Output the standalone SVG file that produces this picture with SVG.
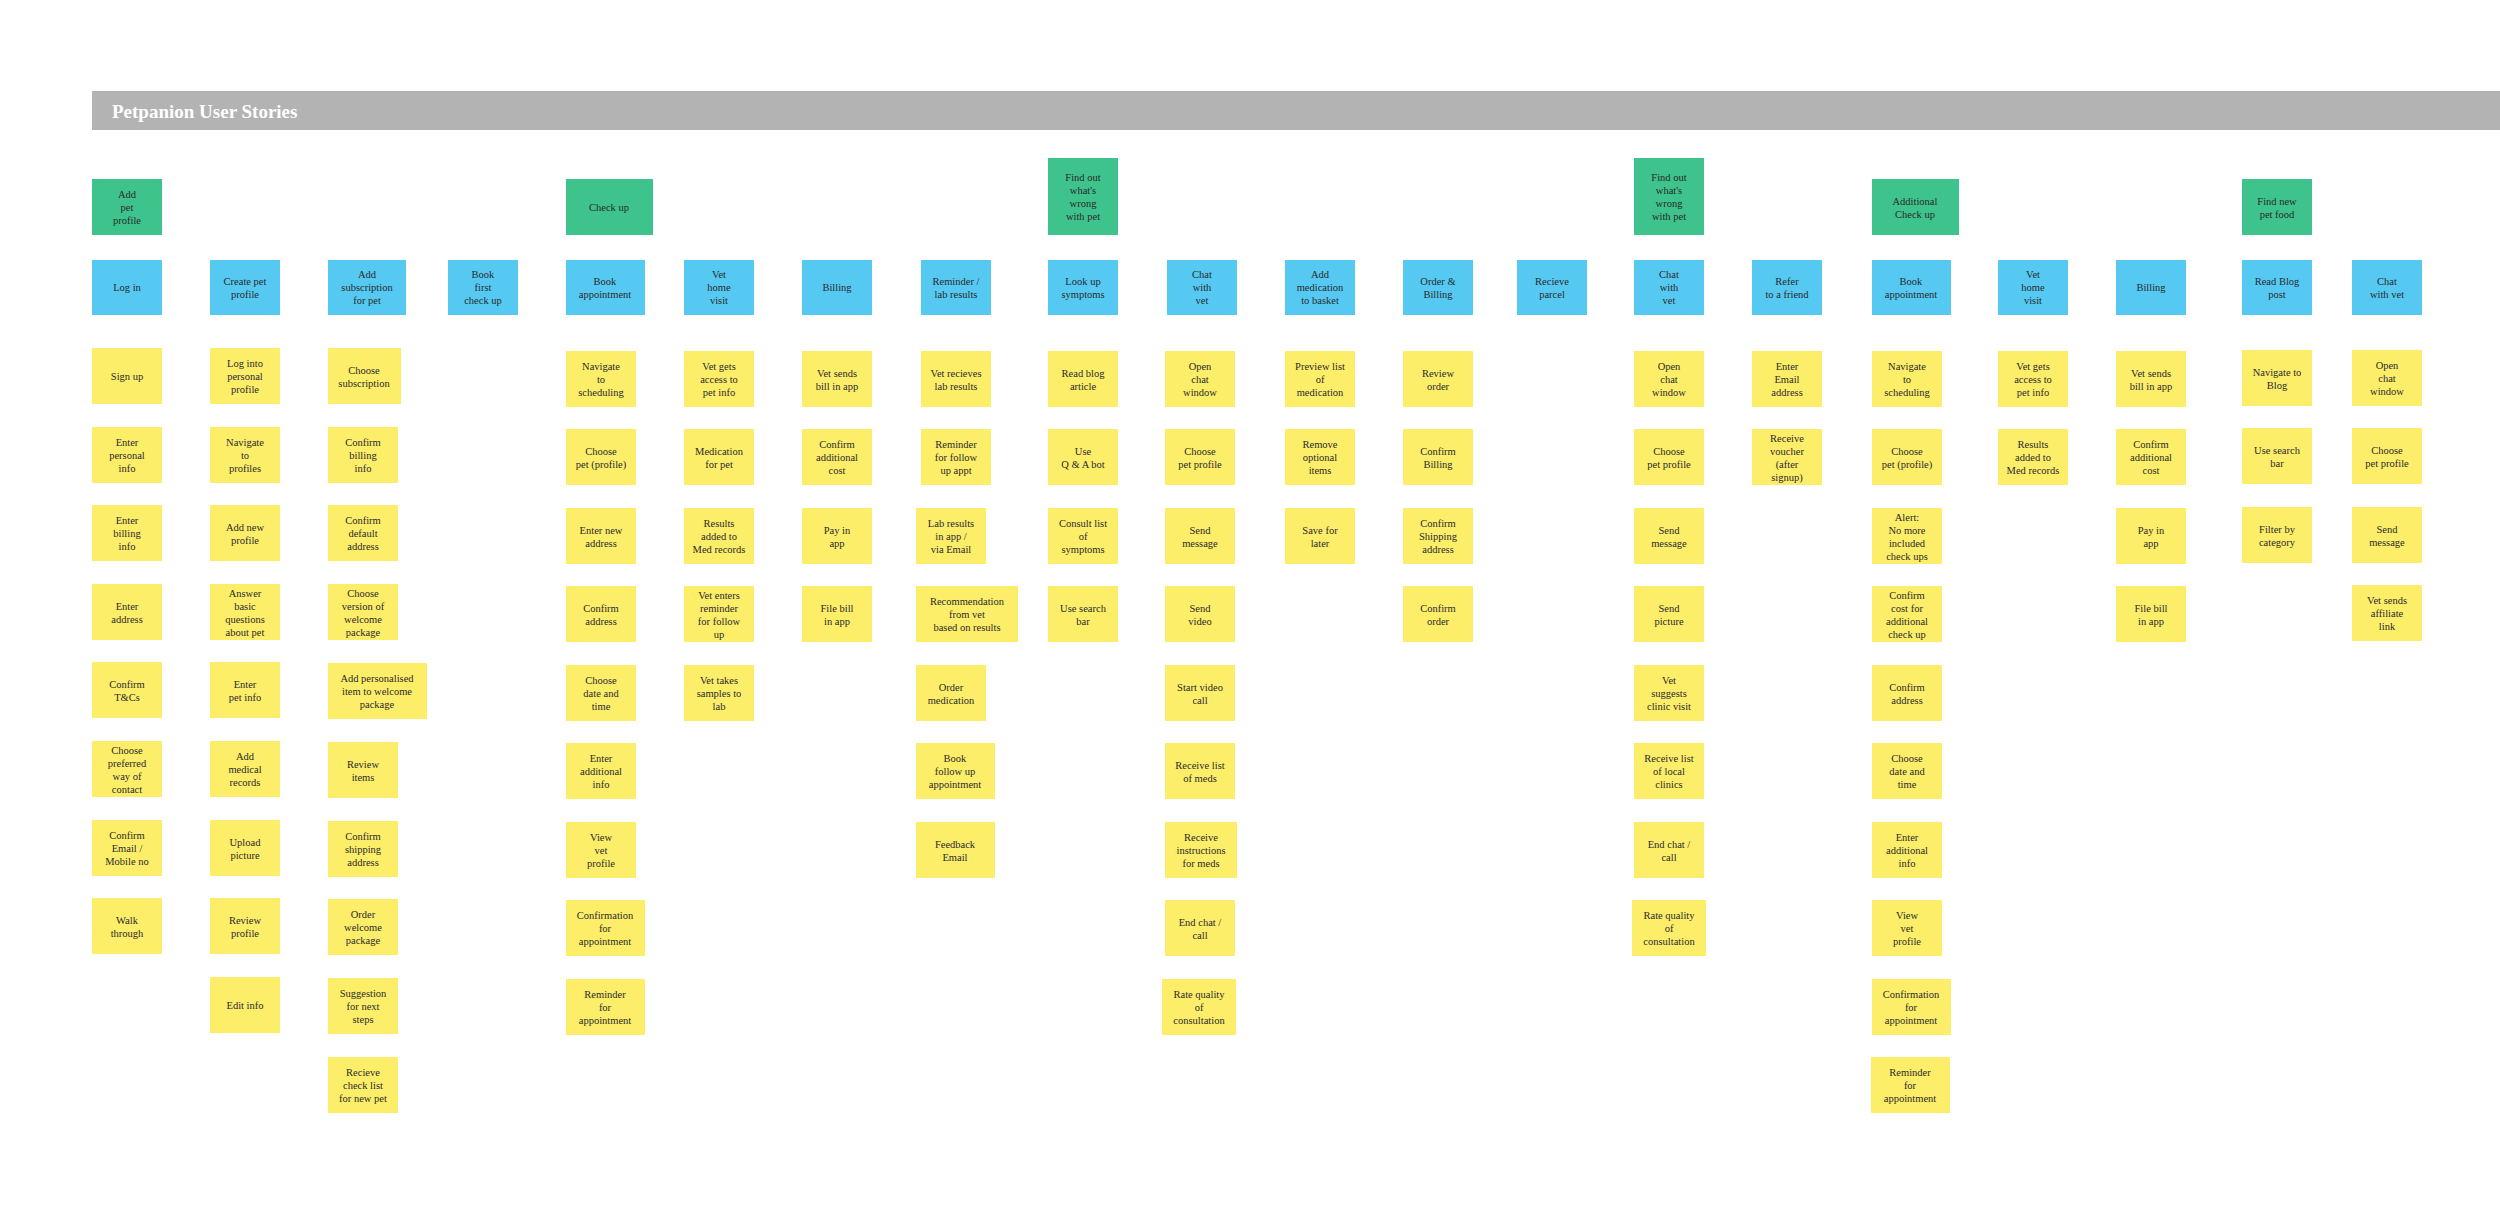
<svg xmlns="http://www.w3.org/2000/svg" width="2500" height="1231" viewBox="0 0 2500 1231">
<style>
.g{fill:#3ec38d}.b{fill:#55c9f2}.y{fill:#fdee6a}
text{font-family:"Liberation Serif","DejaVu Serif",serif;font-size:10.5px;fill:#2a2a2a;text-anchor:middle;dominant-baseline:central}
.t{font-size:19px;font-weight:bold;fill:#fff;text-anchor:start}
</style>
<rect width="2500" height="1231" fill="#fff"/>
<g id="banner"><rect x="92" y="91" width="2408" height="39" fill="#b3b3b3"/><text class="t" x="112" y="111">Petpanion User Stories</text></g>
<g id="connectors"></g>
<!-- Col 1 -->
<g id="g1"><rect class="g" x="92" y="179" width="70" height="56"/><text x="127" y="207"><tspan x="127" dy="-13">Add</tspan><tspan x="127" dy="13">pet</tspan><tspan x="127" dy="13">profile</tspan></text></g>
<g id="b1"><rect class="b" x="92" y="260" width="70" height="55"/><text x="127" y="287"><tspan x="127" dy="0">Log in</tspan></text></g>
<g id="y1a"><rect class="y" x="92" y="348" width="70" height="56"/><text x="127" y="376"><tspan x="127" dy="0">Sign up</tspan></text></g>
<g id="y1b"><rect class="y" x="92" y="427" width="70" height="56"/><text x="127" y="455"><tspan x="127" dy="-13">Enter</tspan><tspan x="127" dy="13">personal</tspan><tspan x="127" dy="13">info</tspan></text></g>
<g id="y1c"><rect class="y" x="92" y="505" width="70" height="56"/><text x="127" y="533"><tspan x="127" dy="-13">Enter</tspan><tspan x="127" dy="13">billing</tspan><tspan x="127" dy="13">info</tspan></text></g>
<g id="y1d"><rect class="y" x="92" y="584" width="70" height="56"/><text x="127" y="612"><tspan x="127" dy="-6.5">Enter</tspan><tspan x="127" dy="13">address</tspan></text></g>
<g id="y1e"><rect class="y" x="92" y="662" width="70" height="56"/><text x="127" y="690"><tspan x="127" dy="-6.5">Confirm</tspan><tspan x="127" dy="13">T&amp;Cs</tspan></text></g>
<g id="y1f"><rect class="y" x="92" y="741" width="70" height="56"/><text x="127" y="769"><tspan x="127" dy="-19.5">Choose</tspan><tspan x="127" dy="13">preferred</tspan><tspan x="127" dy="13">way of</tspan><tspan x="127" dy="13">contact</tspan></text></g>
<g id="y1g"><rect class="y" x="92" y="820" width="70" height="56"/><text x="127" y="848"><tspan x="127" dy="-13">Confirm</tspan><tspan x="127" dy="13">Email /</tspan><tspan x="127" dy="13">Mobile no</tspan></text></g>
<g id="y1h"><rect class="y" x="92" y="898" width="70" height="56"/><text x="127" y="926"><tspan x="127" dy="-6.5">Walk</tspan><tspan x="127" dy="13">through</tspan></text></g>
<!-- Col 2 -->
<g id="b2"><rect class="b" x="210" y="260" width="70" height="55"/><text x="245" y="287"><tspan x="245" dy="-6.5">Create pet</tspan><tspan x="245" dy="13">profile</tspan></text></g>
<g id="y2a"><rect class="y" x="210" y="348" width="70" height="56"/><text x="245" y="376"><tspan x="245" dy="-13">Log into</tspan><tspan x="245" dy="13">personal</tspan><tspan x="245" dy="13">profile</tspan></text></g>
<g id="y2b"><rect class="y" x="210" y="427" width="70" height="56"/><text x="245" y="455"><tspan x="245" dy="-13">Navigate</tspan><tspan x="245" dy="13">to</tspan><tspan x="245" dy="13">profiles</tspan></text></g>
<g id="y2c"><rect class="y" x="210" y="505" width="70" height="56"/><text x="245" y="533"><tspan x="245" dy="-6.5">Add new</tspan><tspan x="245" dy="13">profile</tspan></text></g>
<g id="y2d"><rect class="y" x="210" y="584" width="70" height="56"/><text x="245" y="612"><tspan x="245" dy="-19.5">Answer</tspan><tspan x="245" dy="13">basic</tspan><tspan x="245" dy="13">questions</tspan><tspan x="245" dy="13">about pet</tspan></text></g>
<g id="y2e"><rect class="y" x="210" y="662" width="70" height="56"/><text x="245" y="690"><tspan x="245" dy="-6.5">Enter</tspan><tspan x="245" dy="13">pet info</tspan></text></g>
<g id="y2f"><rect class="y" x="210" y="741" width="70" height="56"/><text x="245" y="769"><tspan x="245" dy="-13">Add</tspan><tspan x="245" dy="13">medical</tspan><tspan x="245" dy="13">records</tspan></text></g>
<g id="y2g"><rect class="y" x="210" y="820" width="70" height="56"/><text x="245" y="848"><tspan x="245" dy="-6.5">Upload</tspan><tspan x="245" dy="13">picture</tspan></text></g>
<g id="y2h"><rect class="y" x="210" y="898" width="70" height="56"/><text x="245" y="926"><tspan x="245" dy="-6.5">Review</tspan><tspan x="245" dy="13">profile</tspan></text></g>
<g id="y2i"><rect class="y" x="210" y="977" width="70" height="56"/><text x="245" y="1005"><tspan x="245" dy="0">Edit info</tspan></text></g>
<!-- Col 3 -->
<g id="b3"><rect class="b" x="328" y="260" width="78" height="55"/><text x="367" y="287"><tspan x="367" dy="-13">Add</tspan><tspan x="367" dy="13">subscription</tspan><tspan x="367" dy="13">for pet</tspan></text></g>
<g id="y3a"><rect class="y" x="328" y="348" width="73" height="56"/><text x="364" y="376"><tspan x="364" dy="-6.5">Choose</tspan><tspan x="364" dy="13">subscription</tspan></text></g>
<g id="y3b"><rect class="y" x="328" y="427" width="70" height="56"/><text x="363" y="455"><tspan x="363" dy="-13">Confirm</tspan><tspan x="363" dy="13">billing</tspan><tspan x="363" dy="13">info</tspan></text></g>
<g id="y3c"><rect class="y" x="328" y="505" width="70" height="56"/><text x="363" y="533"><tspan x="363" dy="-13">Confirm</tspan><tspan x="363" dy="13">default</tspan><tspan x="363" dy="13">address</tspan></text></g>
<g id="y3d"><rect class="y" x="328" y="584" width="70" height="56"/><text x="363" y="612"><tspan x="363" dy="-19.5">Choose</tspan><tspan x="363" dy="13">version of</tspan><tspan x="363" dy="13">welcome</tspan><tspan x="363" dy="13">package</tspan></text></g>
<g id="y3e"><rect class="y" x="328" y="663" width="99" height="56"/><text x="377" y="691"><tspan x="377" dy="-13">Add personalised</tspan><tspan x="377" dy="13">item to welcome</tspan><tspan x="377" dy="13">package</tspan></text></g>
<g id="y3f"><rect class="y" x="328" y="742" width="70" height="56"/><text x="363" y="770"><tspan x="363" dy="-6.5">Review</tspan><tspan x="363" dy="13">items</tspan></text></g>
<g id="y3g"><rect class="y" x="328" y="821" width="70" height="56"/><text x="363" y="849"><tspan x="363" dy="-13">Confirm</tspan><tspan x="363" dy="13">shipping</tspan><tspan x="363" dy="13">address</tspan></text></g>
<g id="y3h"><rect class="y" x="328" y="899" width="70" height="56"/><text x="363" y="927"><tspan x="363" dy="-13">Order</tspan><tspan x="363" dy="13">welcome</tspan><tspan x="363" dy="13">package</tspan></text></g>
<g id="y3i"><rect class="y" x="328" y="978" width="70" height="56"/><text x="363" y="1006"><tspan x="363" dy="-13">Suggestion</tspan><tspan x="363" dy="13">for next</tspan><tspan x="363" dy="13">steps</tspan></text></g>
<g id="y3j"><rect class="y" x="328" y="1057" width="70" height="56"/><text x="363" y="1085"><tspan x="363" dy="-13">Recieve</tspan><tspan x="363" dy="13">check list</tspan><tspan x="363" dy="13">for new pet</tspan></text></g>
<!-- Col 4 -->
<g id="b4"><rect class="b" x="448" y="260" width="70" height="55"/><text x="483" y="287"><tspan x="483" dy="-13">Book</tspan><tspan x="483" dy="13">first</tspan><tspan x="483" dy="13">check up</tspan></text></g>
<!-- Col 5 -->
<g id="g5"><rect class="g" x="566" y="179" width="87" height="56"/><text x="609" y="207"><tspan x="609" dy="0">Check up</tspan></text></g>
<g id="b5"><rect class="b" x="566" y="260" width="79" height="55"/><text x="605" y="287"><tspan x="605" dy="-6.5">Book</tspan><tspan x="605" dy="13">appointment</tspan></text></g>
<g id="y5a"><rect class="y" x="566" y="351" width="70" height="56"/><text x="601" y="379"><tspan x="601" dy="-13">Navigate</tspan><tspan x="601" dy="13">to</tspan><tspan x="601" dy="13">scheduling</tspan></text></g>
<g id="y5b"><rect class="y" x="566" y="429" width="70" height="56"/><text x="601" y="457"><tspan x="601" dy="-6.5">Choose</tspan><tspan x="601" dy="13">pet (profile)</tspan></text></g>
<g id="y5c"><rect class="y" x="566" y="508" width="70" height="56"/><text x="601" y="536"><tspan x="601" dy="-6.5">Enter new</tspan><tspan x="601" dy="13">address</tspan></text></g>
<g id="y5d"><rect class="y" x="566" y="586" width="70" height="56"/><text x="601" y="614"><tspan x="601" dy="-6.5">Confirm</tspan><tspan x="601" dy="13">address</tspan></text></g>
<g id="y5e"><rect class="y" x="566" y="665" width="70" height="56"/><text x="601" y="693"><tspan x="601" dy="-13">Choose</tspan><tspan x="601" dy="13">date and</tspan><tspan x="601" dy="13">time</tspan></text></g>
<g id="y5f"><rect class="y" x="566" y="743" width="70" height="56"/><text x="601" y="771"><tspan x="601" dy="-13">Enter</tspan><tspan x="601" dy="13">additional</tspan><tspan x="601" dy="13">info</tspan></text></g>
<g id="y5g"><rect class="y" x="566" y="822" width="70" height="56"/><text x="601" y="850"><tspan x="601" dy="-13">View</tspan><tspan x="601" dy="13">vet</tspan><tspan x="601" dy="13">profile</tspan></text></g>
<g id="y5h"><rect class="y" x="566" y="900" width="79" height="56"/><text x="605" y="928"><tspan x="605" dy="-13">Confirmation</tspan><tspan x="605" dy="13">for</tspan><tspan x="605" dy="13">appointment</tspan></text></g>
<g id="y5i"><rect class="y" x="566" y="979" width="79" height="56"/><text x="605" y="1007"><tspan x="605" dy="-13">Reminder</tspan><tspan x="605" dy="13">for</tspan><tspan x="605" dy="13">appointment</tspan></text></g>
<!-- Col 6 -->
<g id="b6"><rect class="b" x="684" y="236" width="70" height="43" style="display:none"/><rect class="b" x="684" y="260" width="70" height="55"/><text x="719" y="287"><tspan x="719" dy="-13">Vet</tspan><tspan x="719" dy="13">home</tspan><tspan x="719" dy="13">visit</tspan></text></g>
<g id="y6a"><rect class="y" x="684" y="351" width="70" height="56"/><text x="719" y="379"><tspan x="719" dy="-13">Vet gets</tspan><tspan x="719" dy="13">access to</tspan><tspan x="719" dy="13">pet info</tspan></text></g>
<g id="y6b"><rect class="y" x="684" y="429" width="70" height="56"/><text x="719" y="457"><tspan x="719" dy="-6.5">Medication</tspan><tspan x="719" dy="13">for pet</tspan></text></g>
<g id="y6c"><rect class="y" x="684" y="508" width="70" height="56"/><text x="719" y="536"><tspan x="719" dy="-13">Results</tspan><tspan x="719" dy="13">added to</tspan><tspan x="719" dy="13">Med records</tspan></text></g>
<g id="y6d"><rect class="y" x="684" y="586" width="70" height="56"/><text x="719" y="614"><tspan x="719" dy="-19.5">Vet enters</tspan><tspan x="719" dy="13">reminder</tspan><tspan x="719" dy="13">for follow</tspan><tspan x="719" dy="13">up</tspan></text></g>
<g id="y6e"><rect class="y" x="684" y="665" width="70" height="56"/><text x="719" y="693"><tspan x="719" dy="-13">Vet takes</tspan><tspan x="719" dy="13">samples to</tspan><tspan x="719" dy="13">lab</tspan></text></g>
<!-- Col 7 -->
<g id="b7"><rect class="b" x="802" y="260" width="70" height="55"/><text x="837" y="287"><tspan x="837" dy="0">Billing</tspan></text></g>
<g id="y7a"><rect class="y" x="802" y="351" width="70" height="56"/><text x="837" y="379"><tspan x="837" dy="-6.5">Vet sends</tspan><tspan x="837" dy="13">bill in app</tspan></text></g>
<g id="y7b"><rect class="y" x="802" y="429" width="70" height="56"/><text x="837" y="457"><tspan x="837" dy="-13">Confirm</tspan><tspan x="837" dy="13">additional</tspan><tspan x="837" dy="13">cost</tspan></text></g>
<g id="y7c"><rect class="y" x="802" y="508" width="70" height="56"/><text x="837" y="536"><tspan x="837" dy="-6.5">Pay in</tspan><tspan x="837" dy="13">app</tspan></text></g>
<g id="y7d"><rect class="y" x="802" y="586" width="70" height="56"/><text x="837" y="614"><tspan x="837" dy="-6.5">File bill</tspan><tspan x="837" dy="13">in app</tspan></text></g>
<!-- Col 8 -->
<g id="b8"><rect class="b" x="921" y="260" width="70" height="55"/><text x="956" y="287"><tspan x="956" dy="-6.5">Reminder /</tspan><tspan x="956" dy="13">lab results</tspan></text></g>
<g id="y8a"><rect class="y" x="921" y="351" width="70" height="56"/><text x="956" y="379"><tspan x="956" dy="-6.5">Vet recieves</tspan><tspan x="956" dy="13">lab results</tspan></text></g>
<g id="y8b"><rect class="y" x="921" y="429" width="70" height="56"/><text x="956" y="457"><tspan x="956" dy="-13">Reminder</tspan><tspan x="956" dy="13">for follow</tspan><tspan x="956" dy="13">up appt</tspan></text></g>
<g id="y8c"><rect class="y" x="916" y="508" width="70" height="56"/><text x="951" y="536"><tspan x="951" dy="-13">Lab results</tspan><tspan x="951" dy="13">in app /</tspan><tspan x="951" dy="13">via Email</tspan></text></g>
<g id="y8d"><rect class="y" x="916" y="586" width="102" height="56"/><text x="967" y="614"><tspan x="967" dy="-13">Recommendation</tspan><tspan x="967" dy="13">from vet</tspan><tspan x="967" dy="13">based on results</tspan></text></g>
<g id="y8e"><rect class="y" x="916" y="665" width="70" height="56"/><text x="951" y="693"><tspan x="951" dy="-6.5">Order</tspan><tspan x="951" dy="13">medication</tspan></text></g>
<g id="y8f"><rect class="y" x="916" y="743" width="79" height="56"/><text x="955" y="771"><tspan x="955" dy="-13">Book</tspan><tspan x="955" dy="13">follow up</tspan><tspan x="955" dy="13">appointment</tspan></text></g>
<g id="y8g"><rect class="y" x="916" y="822" width="79" height="56"/><text x="955" y="850"><tspan x="955" dy="-6.5">Feedback</tspan><tspan x="955" dy="13">Email</tspan></text></g>
<!-- Col 9 -->
<g id="g9"><rect class="g" x="1048" y="158" width="70" height="77"/><text x="1083" y="196"><tspan x="1083" dy="-19.5">Find out</tspan><tspan x="1083" dy="13">what's</tspan><tspan x="1083" dy="13">wrong</tspan><tspan x="1083" dy="13">with pet</tspan></text></g>
<g id="b9"><rect class="b" x="1048" y="260" width="70" height="55"/><text x="1083" y="287"><tspan x="1083" dy="-6.5">Look up</tspan><tspan x="1083" dy="13">symptoms</tspan></text></g>
<g id="y9a"><rect class="y" x="1048" y="351" width="70" height="56"/><text x="1083" y="379"><tspan x="1083" dy="-6.5">Read blog</tspan><tspan x="1083" dy="13">article</tspan></text></g>
<g id="y9b"><rect class="y" x="1048" y="429" width="70" height="56"/><text x="1083" y="457"><tspan x="1083" dy="-6.5">Use</tspan><tspan x="1083" dy="13">Q &amp; A bot</tspan></text></g>
<g id="y9c"><rect class="y" x="1048" y="508" width="70" height="56"/><text x="1083" y="536"><tspan x="1083" dy="-13">Consult list</tspan><tspan x="1083" dy="13">of</tspan><tspan x="1083" dy="13">symptoms</tspan></text></g>
<g id="y9d"><rect class="y" x="1048" y="586" width="70" height="56"/><text x="1083" y="614"><tspan x="1083" dy="-6.5">Use search</tspan><tspan x="1083" dy="13">bar</tspan></text></g>
<!-- Col 10 -->
<g id="b10"><rect class="b" x="1167" y="260" width="70" height="55"/><text x="1202" y="287"><tspan x="1202" dy="-13">Chat</tspan><tspan x="1202" dy="13">with</tspan><tspan x="1202" dy="13">vet</tspan></text></g>
<g id="y10a"><rect class="y" x="1165" y="351" width="70" height="56"/><text x="1200" y="379"><tspan x="1200" dy="-13">Open</tspan><tspan x="1200" dy="13">chat</tspan><tspan x="1200" dy="13">window</tspan></text></g>
<g id="y10b"><rect class="y" x="1165" y="429" width="70" height="56"/><text x="1200" y="457"><tspan x="1200" dy="-6.5">Choose</tspan><tspan x="1200" dy="13">pet profile</tspan></text></g>
<g id="y10c"><rect class="y" x="1165" y="508" width="70" height="56"/><text x="1200" y="536"><tspan x="1200" dy="-6.5">Send</tspan><tspan x="1200" dy="13">message</tspan></text></g>
<g id="y10d"><rect class="y" x="1165" y="586" width="70" height="56"/><text x="1200" y="614"><tspan x="1200" dy="-6.5">Send</tspan><tspan x="1200" dy="13">video</tspan></text></g>
<g id="y10e"><rect class="y" x="1165" y="665" width="70" height="56"/><text x="1200" y="693"><tspan x="1200" dy="-6.5">Start video</tspan><tspan x="1200" dy="13">call</tspan></text></g>
<g id="y10f"><rect class="y" x="1165" y="743" width="70" height="56"/><text x="1200" y="771"><tspan x="1200" dy="-6.5">Receive list</tspan><tspan x="1200" dy="13">of meds</tspan></text></g>
<g id="y10g"><rect class="y" x="1165" y="822" width="72" height="56"/><text x="1201" y="850"><tspan x="1201" dy="-13">Receive</tspan><tspan x="1201" dy="13">instructions</tspan><tspan x="1201" dy="13">for meds</tspan></text></g>
<g id="y10h"><rect class="y" x="1165" y="900" width="70" height="56"/><text x="1200" y="928"><tspan x="1200" dy="-6.5">End chat /</tspan><tspan x="1200" dy="13">call</tspan></text></g>
<g id="y10i"><rect class="y" x="1162" y="979" width="74" height="56"/><text x="1199" y="1007"><tspan x="1199" dy="-13">Rate quality</tspan><tspan x="1199" dy="13">of</tspan><tspan x="1199" dy="13">consultation</tspan></text></g>
<!-- Col 11 -->
<g id="b11"><rect class="b" x="1285" y="260" width="70" height="55"/><text x="1320" y="287"><tspan x="1320" dy="-13">Add</tspan><tspan x="1320" dy="13">medication</tspan><tspan x="1320" dy="13">to basket</tspan></text></g>
<g id="y11a"><rect class="y" x="1285" y="351" width="70" height="56"/><text x="1320" y="379"><tspan x="1320" dy="-13">Preview list</tspan><tspan x="1320" dy="13">of</tspan><tspan x="1320" dy="13">medication</tspan></text></g>
<g id="y11b"><rect class="y" x="1285" y="429" width="70" height="56"/><text x="1320" y="457"><tspan x="1320" dy="-13">Remove</tspan><tspan x="1320" dy="13">optional</tspan><tspan x="1320" dy="13">items</tspan></text></g>
<g id="y11c"><rect class="y" x="1285" y="508" width="70" height="56"/><text x="1320" y="536"><tspan x="1320" dy="-6.5">Save for</tspan><tspan x="1320" dy="13">later</tspan></text></g>
<!-- Col 12 -->
<g id="b12"><rect class="b" x="1403" y="260" width="70" height="55"/><text x="1438" y="287"><tspan x="1438" dy="-6.5">Order &amp;</tspan><tspan x="1438" dy="13">Billing</tspan></text></g>
<g id="y12a"><rect class="y" x="1403" y="351" width="70" height="56"/><text x="1438" y="379"><tspan x="1438" dy="-6.5">Review</tspan><tspan x="1438" dy="13">order</tspan></text></g>
<g id="y12b"><rect class="y" x="1403" y="429" width="70" height="56"/><text x="1438" y="457"><tspan x="1438" dy="-6.5">Confirm</tspan><tspan x="1438" dy="13">Billing</tspan></text></g>
<g id="y12c"><rect class="y" x="1403" y="508" width="70" height="56"/><text x="1438" y="536"><tspan x="1438" dy="-13">Confirm</tspan><tspan x="1438" dy="13">Shipping</tspan><tspan x="1438" dy="13">address</tspan></text></g>
<g id="y12d"><rect class="y" x="1403" y="586" width="70" height="56"/><text x="1438" y="614"><tspan x="1438" dy="-6.5">Confirm</tspan><tspan x="1438" dy="13">order</tspan></text></g>
<!-- Col 13 -->
<g id="b13"><rect class="b" x="1517" y="260" width="70" height="55"/><text x="1552" y="287"><tspan x="1552" dy="-6.5">Recieve</tspan><tspan x="1552" dy="13">parcel</tspan></text></g>
<!-- Col 14 -->
<g id="g14"><rect class="g" x="1634" y="158" width="70" height="77"/><text x="1669" y="196"><tspan x="1669" dy="-19.5">Find out</tspan><tspan x="1669" dy="13">what's</tspan><tspan x="1669" dy="13">wrong</tspan><tspan x="1669" dy="13">with pet</tspan></text></g>
<g id="b14"><rect class="b" x="1634" y="260" width="70" height="55"/><text x="1669" y="287"><tspan x="1669" dy="-13">Chat</tspan><tspan x="1669" dy="13">with</tspan><tspan x="1669" dy="13">vet</tspan></text></g>
<g id="y14a"><rect class="y" x="1634" y="351" width="70" height="56"/><text x="1669" y="379"><tspan x="1669" dy="-13">Open</tspan><tspan x="1669" dy="13">chat</tspan><tspan x="1669" dy="13">window</tspan></text></g>
<g id="y14b"><rect class="y" x="1634" y="429" width="70" height="56"/><text x="1669" y="457"><tspan x="1669" dy="-6.5">Choose</tspan><tspan x="1669" dy="13">pet profile</tspan></text></g>
<g id="y14c"><rect class="y" x="1634" y="508" width="70" height="56"/><text x="1669" y="536"><tspan x="1669" dy="-6.5">Send</tspan><tspan x="1669" dy="13">message</tspan></text></g>
<g id="y14d"><rect class="y" x="1634" y="586" width="70" height="56"/><text x="1669" y="614"><tspan x="1669" dy="-6.5">Send</tspan><tspan x="1669" dy="13">picture</tspan></text></g>
<g id="y14e"><rect class="y" x="1634" y="665" width="70" height="56"/><text x="1669" y="693"><tspan x="1669" dy="-13">Vet</tspan><tspan x="1669" dy="13">suggests</tspan><tspan x="1669" dy="13">clinic visit</tspan></text></g>
<g id="y14f"><rect class="y" x="1634" y="743" width="70" height="56"/><text x="1669" y="771"><tspan x="1669" dy="-13">Receive list</tspan><tspan x="1669" dy="13">of local</tspan><tspan x="1669" dy="13">clinics</tspan></text></g>
<g id="y14g"><rect class="y" x="1634" y="822" width="70" height="56"/><text x="1669" y="850"><tspan x="1669" dy="-6.5">End chat /</tspan><tspan x="1669" dy="13">call</tspan></text></g>
<g id="y14h"><rect class="y" x="1632" y="900" width="74" height="56"/><text x="1669" y="928"><tspan x="1669" dy="-13">Rate quality</tspan><tspan x="1669" dy="13">of</tspan><tspan x="1669" dy="13">consultation</tspan></text></g>
<!-- Col 15 -->
<g id="b15"><rect class="b" x="1752" y="260" width="70" height="55"/><text x="1787" y="287"><tspan x="1787" dy="-6.5">Refer</tspan><tspan x="1787" dy="13">to a friend</tspan></text></g>
<g id="y15a"><rect class="y" x="1752" y="351" width="70" height="56"/><text x="1787" y="379"><tspan x="1787" dy="-13">Enter</tspan><tspan x="1787" dy="13">Email</tspan><tspan x="1787" dy="13">address</tspan></text></g>
<g id="y15b"><rect class="y" x="1752" y="429" width="70" height="56"/><text x="1787" y="457"><tspan x="1787" dy="-19.5">Receive</tspan><tspan x="1787" dy="13">voucher</tspan><tspan x="1787" dy="13">(after</tspan><tspan x="1787" dy="13">signup)</tspan></text></g>
<!-- Col 16 -->
<g id="g16"><rect class="g" x="1872" y="179" width="87" height="56"/><text x="1915" y="207"><tspan x="1915" dy="-6.5">Additional</tspan><tspan x="1915" dy="13">Check up</tspan></text></g>
<g id="b16"><rect class="b" x="1872" y="260" width="79" height="55"/><text x="1911" y="287"><tspan x="1911" dy="-6.5">Book</tspan><tspan x="1911" dy="13">appointment</tspan></text></g>
<g id="y16a"><rect class="y" x="1872" y="351" width="70" height="56"/><text x="1907" y="379"><tspan x="1907" dy="-13">Navigate</tspan><tspan x="1907" dy="13">to</tspan><tspan x="1907" dy="13">scheduling</tspan></text></g>
<g id="y16b"><rect class="y" x="1872" y="429" width="70" height="56"/><text x="1907" y="457"><tspan x="1907" dy="-6.5">Choose</tspan><tspan x="1907" dy="13">pet (profile)</tspan></text></g>
<g id="y16c"><rect class="y" x="1872" y="508" width="70" height="56"/><text x="1907" y="536"><tspan x="1907" dy="-19.5">Alert:</tspan><tspan x="1907" dy="13">No more</tspan><tspan x="1907" dy="13">included</tspan><tspan x="1907" dy="13">check ups</tspan></text></g>
<g id="y16d"><rect class="y" x="1872" y="586" width="70" height="56"/><text x="1907" y="614"><tspan x="1907" dy="-19.5">Confirm</tspan><tspan x="1907" dy="13">cost for</tspan><tspan x="1907" dy="13">additional</tspan><tspan x="1907" dy="13">check up</tspan></text></g>
<g id="y16e"><rect class="y" x="1872" y="665" width="70" height="56"/><text x="1907" y="693"><tspan x="1907" dy="-6.5">Confirm</tspan><tspan x="1907" dy="13">address</tspan></text></g>
<g id="y16f"><rect class="y" x="1872" y="743" width="70" height="56"/><text x="1907" y="771"><tspan x="1907" dy="-13">Choose</tspan><tspan x="1907" dy="13">date and</tspan><tspan x="1907" dy="13">time</tspan></text></g>
<g id="y16g"><rect class="y" x="1872" y="822" width="70" height="56"/><text x="1907" y="850"><tspan x="1907" dy="-13">Enter</tspan><tspan x="1907" dy="13">additional</tspan><tspan x="1907" dy="13">info</tspan></text></g>
<g id="y16h"><rect class="y" x="1872" y="900" width="70" height="56"/><text x="1907" y="928"><tspan x="1907" dy="-13">View</tspan><tspan x="1907" dy="13">vet</tspan><tspan x="1907" dy="13">profile</tspan></text></g>
<g id="y16i"><rect class="y" x="1872" y="979" width="79" height="56"/><text x="1911" y="1007"><tspan x="1911" dy="-13">Confirmation</tspan><tspan x="1911" dy="13">for</tspan><tspan x="1911" dy="13">appointment</tspan></text></g>
<g id="y16j"><rect class="y" x="1871" y="1057" width="79" height="56"/><text x="1910" y="1085"><tspan x="1910" dy="-13">Reminder</tspan><tspan x="1910" dy="13">for</tspan><tspan x="1910" dy="13">appointment</tspan></text></g>
<!-- Col 17 -->
<g id="b17"><rect class="b" x="1998" y="260" width="70" height="55"/><text x="2033" y="287"><tspan x="2033" dy="-13">Vet</tspan><tspan x="2033" dy="13">home</tspan><tspan x="2033" dy="13">visit</tspan></text></g>
<g id="y17a"><rect class="y" x="1998" y="351" width="70" height="56"/><text x="2033" y="379"><tspan x="2033" dy="-13">Vet gets</tspan><tspan x="2033" dy="13">access to</tspan><tspan x="2033" dy="13">pet info</tspan></text></g>
<g id="y17b"><rect class="y" x="1998" y="429" width="70" height="56"/><text x="2033" y="457"><tspan x="2033" dy="-13">Results</tspan><tspan x="2033" dy="13">added to</tspan><tspan x="2033" dy="13">Med records</tspan></text></g>
<!-- Col 18 -->
<g id="b18"><rect class="b" x="2116" y="260" width="70" height="55"/><text x="2151" y="287"><tspan x="2151" dy="0">Billing</tspan></text></g>
<g id="y18a"><rect class="y" x="2116" y="351" width="70" height="56"/><text x="2151" y="379"><tspan x="2151" dy="-6.5">Vet sends</tspan><tspan x="2151" dy="13">bill in app</tspan></text></g>
<g id="y18b"><rect class="y" x="2116" y="429" width="70" height="56"/><text x="2151" y="457"><tspan x="2151" dy="-13">Confirm</tspan><tspan x="2151" dy="13">additional</tspan><tspan x="2151" dy="13">cost</tspan></text></g>
<g id="y18c"><rect class="y" x="2116" y="508" width="70" height="56"/><text x="2151" y="536"><tspan x="2151" dy="-6.5">Pay in</tspan><tspan x="2151" dy="13">app</tspan></text></g>
<g id="y18d"><rect class="y" x="2116" y="586" width="70" height="56"/><text x="2151" y="614"><tspan x="2151" dy="-6.5">File bill</tspan><tspan x="2151" dy="13">in app</tspan></text></g>
<!-- Col 19 -->
<g id="g19"><rect class="g" x="2242" y="179" width="70" height="56"/><text x="2277" y="207"><tspan x="2277" dy="-6.5">Find new</tspan><tspan x="2277" dy="13">pet food</tspan></text></g>
<g id="b19"><rect class="b" x="2242" y="260" width="70" height="55"/><text x="2277" y="287"><tspan x="2277" dy="-6.5">Read Blog</tspan><tspan x="2277" dy="13">post</tspan></text></g>
<g id="y19a"><rect class="y" x="2242" y="350" width="70" height="56"/><text x="2277" y="378"><tspan x="2277" dy="-6.5">Navigate to</tspan><tspan x="2277" dy="13">Blog</tspan></text></g>
<g id="y19b"><rect class="y" x="2242" y="428" width="70" height="56"/><text x="2277" y="456"><tspan x="2277" dy="-6.5">Use search</tspan><tspan x="2277" dy="13">bar</tspan></text></g>
<g id="y19c"><rect class="y" x="2242" y="507" width="70" height="56"/><text x="2277" y="535"><tspan x="2277" dy="-6.5">Filter by</tspan><tspan x="2277" dy="13">category</tspan></text></g>
<!-- Col 20 -->
<g id="b20"><rect class="b" x="2352" y="260" width="70" height="55"/><text x="2387" y="287"><tspan x="2387" dy="-6.5">Chat</tspan><tspan x="2387" dy="13">with vet</tspan></text></g>
<g id="y20a"><rect class="y" x="2352" y="350" width="70" height="56"/><text x="2387" y="378"><tspan x="2387" dy="-13">Open</tspan><tspan x="2387" dy="13">chat</tspan><tspan x="2387" dy="13">window</tspan></text></g>
<g id="y20b"><rect class="y" x="2352" y="428" width="70" height="56"/><text x="2387" y="456"><tspan x="2387" dy="-6.5">Choose</tspan><tspan x="2387" dy="13">pet profile</tspan></text></g>
<g id="y20c"><rect class="y" x="2352" y="507" width="70" height="56"/><text x="2387" y="535"><tspan x="2387" dy="-6.5">Send</tspan><tspan x="2387" dy="13">message</tspan></text></g>
<g id="y20d"><rect class="y" x="2352" y="585" width="70" height="56"/><text x="2387" y="613"><tspan x="2387" dy="-13">Vet sends</tspan><tspan x="2387" dy="13">affiliate</tspan><tspan x="2387" dy="13">link</tspan></text></g>
</svg>
